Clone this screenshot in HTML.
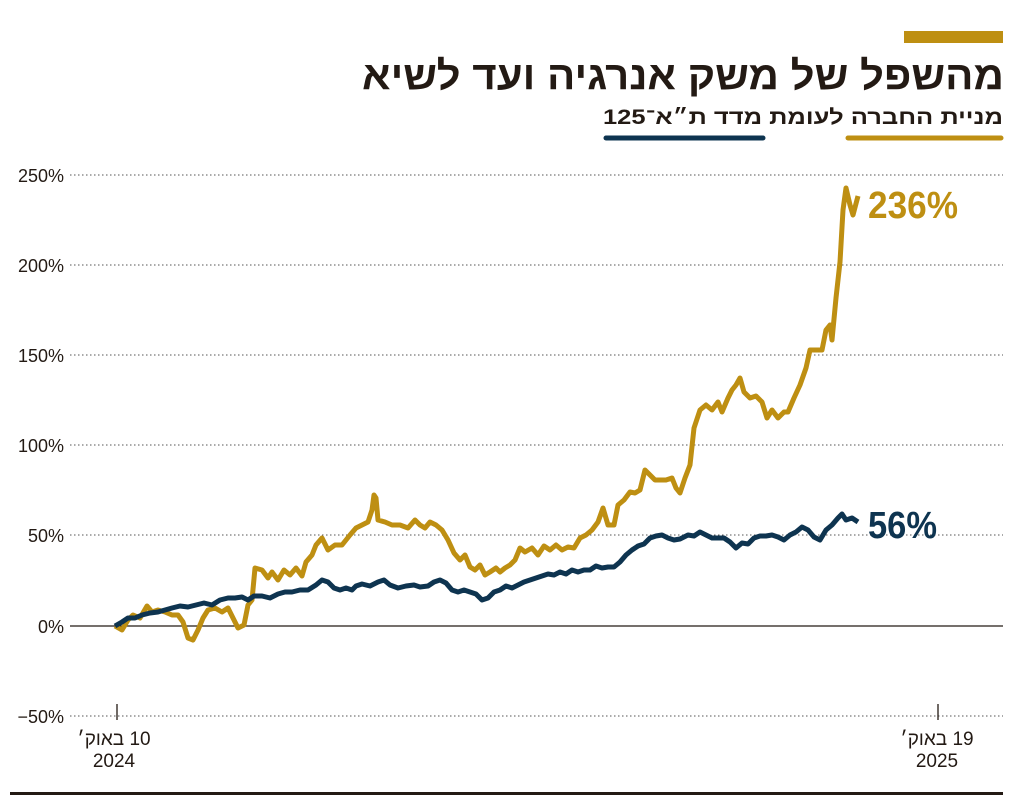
<!DOCTYPE html>
<html><head><meta charset="utf-8"><style>html,body{margin:0;padding:0;background:#fff}</style></head><body>
<svg width="1024" height="799" viewBox="0 0 1024 799" xmlns="http://www.w3.org/2000/svg" font-family="'Liberation Sans','DejaVu Sans',sans-serif">
<rect x="904" y="31" width="99" height="12" fill="#BE8F12"/>
<text x="362" y="89" font-size="40" font-weight="bold" fill="#231a14" textLength="642" lengthAdjust="spacingAndGlyphs">מהשפל של משק אנרגיה ועד לשיא</text>
<text x="1003" y="124" font-size="21" font-weight="bold" fill="#231a14" direction="rtl" unicode-bidi="embed" text-anchor="start" textLength="400" lengthAdjust="spacingAndGlyphs">מניית החברה לעומת מדד ת״א־125</text>
<line x1="848" y1="138" x2="1001" y2="138" stroke="#BE8F12" stroke-width="5" stroke-linecap="round"/>
<line x1="606" y1="138" x2="763" y2="138" stroke="#0E3450" stroke-width="5" stroke-linecap="round"/>
<g stroke="#555" stroke-width="1" stroke-dasharray="1.5,2.5">
<line x1="70" y1="175" x2="1003" y2="175"/><line x1="70" y1="265" x2="1003" y2="265"/><line x1="70" y1="355" x2="1003" y2="355"/><line x1="70" y1="445" x2="1003" y2="445"/><line x1="70" y1="535" x2="1003" y2="535"/><line x1="70" y1="716" x2="1003" y2="716"/>
</g>
<line x1="70" y1="626" x2="1003" y2="626" stroke="#231a14" stroke-width="1.3"/>
<g font-size="18" fill="#231a14" text-anchor="end">
<text x="64" y="182">250%</text><text x="64" y="272">200%</text><text x="64" y="362">150%</text><text x="64" y="452">100%</text><text x="64" y="542">50%</text><text x="64" y="633">0%</text><text x="64" y="723">−50%</text>
</g>
<line x1="117" y1="704" x2="117" y2="720" stroke="#231a14" stroke-width="1.3"/>
<line x1="938" y1="704" x2="938" y2="720" stroke="#231a14" stroke-width="1.3"/>
<g font-size="19" fill="#231a14" text-anchor="middle">
<text x="114" y="745" direction="rtl" unicode-bidi="embed">10 באוק׳</text><text x="114" y="767">2024</text>
<text x="937" y="745" direction="rtl" unicode-bidi="embed">19 באוק׳</text><text x="937" y="767">2025</text>
</g>
<rect x="10" y="792" width="993" height="3" fill="#231a14"/>
<polyline fill="none" stroke="#BE8F12" stroke-width="5" stroke-linejoin="round" points="115,626 122,630 128,620 133,615 140,618 147,606 152,612 158,610 165,612 172,615 178,615 183,622 188,638 193,640 198,630 203,618 208,610 215,608 222,612 228,608 233,618 238,628 244,625 248,605 252,600 255,568 262,570 268,578 272,572 278,580 284,570 290,575 296,568 302,576 306,562 312,555 316,545 322,538 328,550 335,545 342,545 350,535 356,528 362,525 368,522 372,510 374,495 376,498 378,520 385,522 392,525 400,525 408,528 415,520 420,525 425,528 430,522 436,525 442,530 448,540 454,553 460,560 465,555 470,567 475,570 480,565 485,575 490,572 496,568 500,572 505,568 510,565 515,560 520,548 525,552 532,548 538,555 544,546 550,550 556,545 562,550 568,547 574,548 580,538 586,535 592,530 598,522 603,508 608,525 614,525 618,505 624,500 630,492 635,493 640,490 645,470 650,475 655,480 660,480 666,480 672,478 676,488 680,493 685,478 690,465 694,428 700,410 706,405 712,410 718,402 722,412 728,398 732,390 736,385 740,378 744,392 750,398 756,396 762,402 767,418 772,410 778,418 784,412 788,412 794,398 800,385 806,368 810,350 816,350 822,350 826,330 830,325 832,340 836,298 840,262 843,210 846,188 850,205 853,215 858,196"/>
<polyline fill="none" stroke="#0E3450" stroke-width="5" stroke-linejoin="round" points="115,626 122,622 128,618 135,618 142,615 150,613 158,612 165,610 172,608 180,606 188,607 196,605 204,603 212,605 220,600 228,598 235,598 242,597 248,600 254,596 262,596 270,598 278,594 285,592 292,592 300,590 308,590 316,585 322,580 328,582 334,588 340,590 346,588 352,590 356,586 362,584 370,586 378,582 384,580 390,585 398,588 406,586 414,585 420,587 428,586 434,582 440,580 446,583 452,590 458,592 464,590 470,592 476,594 482,600 488,598 494,592 500,590 506,586 512,588 518,585 524,582 530,580 536,578 542,576 548,574 554,575 560,572 566,574 572,570 578,572 584,570 590,570 596,566 602,568 608,567 614,567 620,562 626,555 632,550 638,546 644,544 650,538 656,536 662,535 668,538 674,540 680,539 688,535 694,536 700,532 706,535 712,538 718,538 724,538 730,542 736,548 742,543 748,544 754,538 760,536 766,536 772,535 778,537 784,540 790,535 796,532 802,527 808,530 814,537 820,540 826,530 832,525 838,518 842,514 846,520 852,518 858,522"/>
<text x="868" y="218" font-size="38" font-weight="bold" fill="#BE8F12" textLength="90" lengthAdjust="spacingAndGlyphs">236%</text>
<text x="868" y="538" font-size="38" font-weight="bold" fill="#0E3450" textLength="69" lengthAdjust="spacingAndGlyphs">56%</text>
</svg>
</body></html>
